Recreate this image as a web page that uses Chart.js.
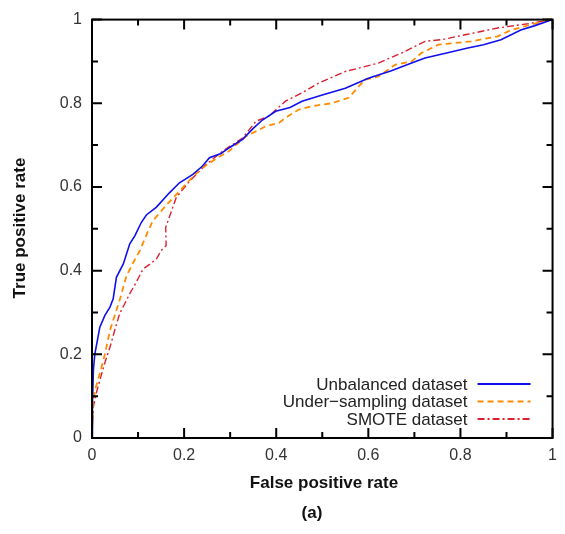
<!DOCTYPE html>
<html>
<head>
<meta charset="utf-8">
<script src="https://cdn.jsdelivr.net/npm/chart.js@4/dist/chart.umd.min.js"></script>
<style>
  html, body { margin: 0; padding: 0; background: #fff; }
  #wrap { width: 565px; height: 534px; }
</style>
</head>
<body>
<div id="wrap"><canvas id="rocChart" width="565" height="534"></canvas></div>
<script>
// ROC curves, values
const unbalancedX = [0, 0.001, 0.003, 0.006, 0.012, 0.017, 0.028, 0.039, 0.046, 0.053, 0.068, 0.082, 0.093, 0.107, 0.118, 0.14, 0.168, 0.19, 0.219, 0.24, 0.255, 0.28, 0.3, 0.327, 0.35, 0.37, 0.399, 0.43, 0.456, 0.5, 0.55, 0.6, 0.65, 0.694, 0.723, 0.77, 0.816, 0.85, 0.888, 0.931, 0.96, 1];
const unbalancedY = [0, 0.08, 0.162, 0.2, 0.235, 0.265, 0.293, 0.313, 0.333, 0.384, 0.416, 0.464, 0.483, 0.515, 0.533, 0.552, 0.586, 0.61, 0.63, 0.65, 0.67, 0.68, 0.695, 0.714, 0.74, 0.76, 0.781, 0.79, 0.805, 0.82, 0.836, 0.86, 0.878, 0.896, 0.908, 0.92, 0.932, 0.94, 0.952, 0.975, 0.985, 1];

const underX = [0, 0.001, 0.003, 0.008, 0.017, 0.028, 0.039, 0.05, 0.06, 0.075, 0.09, 0.104, 0.12, 0.132, 0.16, 0.19, 0.215, 0.24, 0.27, 0.298, 0.334, 0.36, 0.377, 0.406, 0.42, 0.449, 0.478, 0.52, 0.557, 0.575, 0.592, 0.622, 0.658, 0.694, 0.715, 0.752, 0.823, 0.881, 0.91, 0.96, 1];
const underY = [0, 0.04, 0.09, 0.12, 0.154, 0.2, 0.257, 0.295, 0.329, 0.388, 0.42, 0.448, 0.49, 0.519, 0.555, 0.59, 0.62, 0.646, 0.668, 0.686, 0.721, 0.735, 0.745, 0.753, 0.765, 0.785, 0.793, 0.8, 0.813, 0.835, 0.856, 0.864, 0.892, 0.9, 0.92, 0.94, 0.948, 0.96, 0.975, 0.99, 1];

const smoteX = [0, 0.001, 0.003, 0.01, 0.017, 0.028, 0.039, 0.05, 0.06, 0.082, 0.095, 0.111, 0.125, 0.14, 0.15, 0.161, 0.16, 0.165, 0.175, 0.183, 0.212, 0.248, 0.284, 0.327, 0.356, 0.384, 0.42, 0.456, 0.492, 0.55, 0.622, 0.672, 0.723, 0.759, 0.816, 0.881, 0.946, 1];
const smoteY = [0, 0.03, 0.075, 0.11, 0.138, 0.18, 0.217, 0.26, 0.297, 0.345, 0.37, 0.404, 0.415, 0.428, 0.448, 0.46, 0.503, 0.519, 0.55, 0.575, 0.614, 0.654, 0.686, 0.717, 0.757, 0.769, 0.805, 0.825, 0.848, 0.876, 0.896, 0.92, 0.948, 0.952, 0.965, 0.98, 0.99, 1];

const seriesNames = ['Unbalanced dataset', 'Under\u2212sampling dataset', 'SMOTE dataset'];
const tickValues = [0, 0.2, 0.4, 0.6, 0.8, 1];
const tickLabels = ['0', '0.2', '0.4', '0.6', '0.8', '1'];
const minorTickValues = [0.1, 0.3, 0.5, 0.7, 0.9];

const FONT = '"Liberation Sans", Arial, sans-serif';

function toPoints(xs, ys) {
    return xs.map((x, i) => ({ x: x, y: ys[i] }));
}

// inward ticks on all sides, frame, legend inside, axis titles
const framePlugin = {
    id: 'frame',
    afterDatasetsDraw(chart) {
        const ctx = chart.ctx;
        const a = chart.chartArea;
        const xs = chart.scales.x, ys = chart.scales.y;
        ctx.save();
        ctx.strokeStyle = '#000';
        ctx.lineWidth = 2;
        ctx.beginPath();
        const tick = (vals, len) => {
            vals.forEach(v => {
                const px = xs.getPixelForValue(v);
                ctx.moveTo(px, a.bottom); ctx.lineTo(px, a.bottom - len);
                ctx.moveTo(px, a.top); ctx.lineTo(px, a.top + len);
                const py = ys.getPixelForValue(v);
                ctx.moveTo(a.left, py); ctx.lineTo(a.left + len, py);
                ctx.moveTo(a.right, py); ctx.lineTo(a.right - len, py);
            });
        };
        tick(tickValues, 10);
        tick(minorTickValues, 6);
        ctx.stroke();
        ctx.strokeRect(a.left, a.top, a.right - a.left, a.bottom - a.top);

        // legend
        ctx.font = '17px ' + FONT;
        ctx.textAlign = 'right';
        ctx.textBaseline = 'middle';
        chart.data.datasets.forEach((ds, i) => {
            const y = a.bottom - 54 + i * 17.5;
            ctx.fillStyle = '#222';
            ctx.fillText(ds.label, a.right - 85, y + 1);
            ctx.strokeStyle = ds.borderColor;
            ctx.lineWidth = 1.8;
            ctx.setLineDash(ds.borderDash || []);
            ctx.beginPath();
            ctx.moveTo(a.right - 75, y);
            ctx.lineTo(a.right - 22, y);
            ctx.stroke();
        });
        ctx.setLineDash([]);

        // axis titles
        ctx.fillStyle = '#111';
        ctx.font = 'bold 17px ' + FONT;
        ctx.textAlign = 'center';
        ctx.fillText('False positive rate', 324, a.bottom + 45);
        ctx.fillText('(a)', 312, a.bottom + 75);
        ctx.save();
        ctx.translate(20, 228);
        ctx.rotate(-Math.PI / 2);
        ctx.fillText('True positive rate', 0, 0);
        ctx.restore();
        ctx.restore();
    }
};

const ctx = document.getElementById('rocChart').getContext('2d');
new Chart(ctx, {
    type: 'scatter',
    data: {
        datasets: [
            { label: seriesNames[0], data: toPoints(unbalancedX, unbalancedY), borderColor: '#1010ee', borderWidth: 1.6 },
            { label: seriesNames[1], data: toPoints(underX, underY), borderColor: '#ff8c00', borderWidth: 1.8, borderDash: [6, 4] },
            { label: seriesNames[2], data: toPoints(smoteX, smoteY), borderColor: '#dd2030', borderWidth: 1.4, borderDash: [7, 3, 2, 3] }
        ]
    },
    options: {
        responsive: false,
        animation: false,
        showLine: true,
        elements: { point: { radius: 0 }, line: { tension: 0, fill: false } },
        layout: { padding: { top: 18, right: 10, left: 0, bottom: 0 } },
        plugins: { legend: { display: false }, tooltip: { enabled: false } },
        scales: {
            x: {
                type: 'linear', min: 0, max: 1,
                afterFit: s => { s.height = 96; },
                afterBuildTicks: s => { s.ticks = tickValues.map(v => ({ value: v })); },
                grid: { display: false, drawTicks: false },
                border: { display: false },
                ticks: {
                    padding: 8,
                    color: '#333',
                    font: { size: 16, family: FONT },
                    callback: (v) => tickLabels[tickValues.indexOf(v)] ?? ''
                }
            },
            y: {
                type: 'linear', min: 0, max: 1,
                afterFit: s => { s.width = 92; },
                afterBuildTicks: s => { s.ticks = tickValues.map(v => ({ value: v })); },
                grid: { display: false, drawTicks: false },
                border: { display: false },
                ticks: {
                    padding: 10,
                    color: '#333',
                    font: { size: 16, family: FONT },
                    callback: (v) => tickLabels[tickValues.indexOf(v)] ?? ''
                }
            }
        }
    },
    plugins: [framePlugin]
});
</script>
</body>
</html>
